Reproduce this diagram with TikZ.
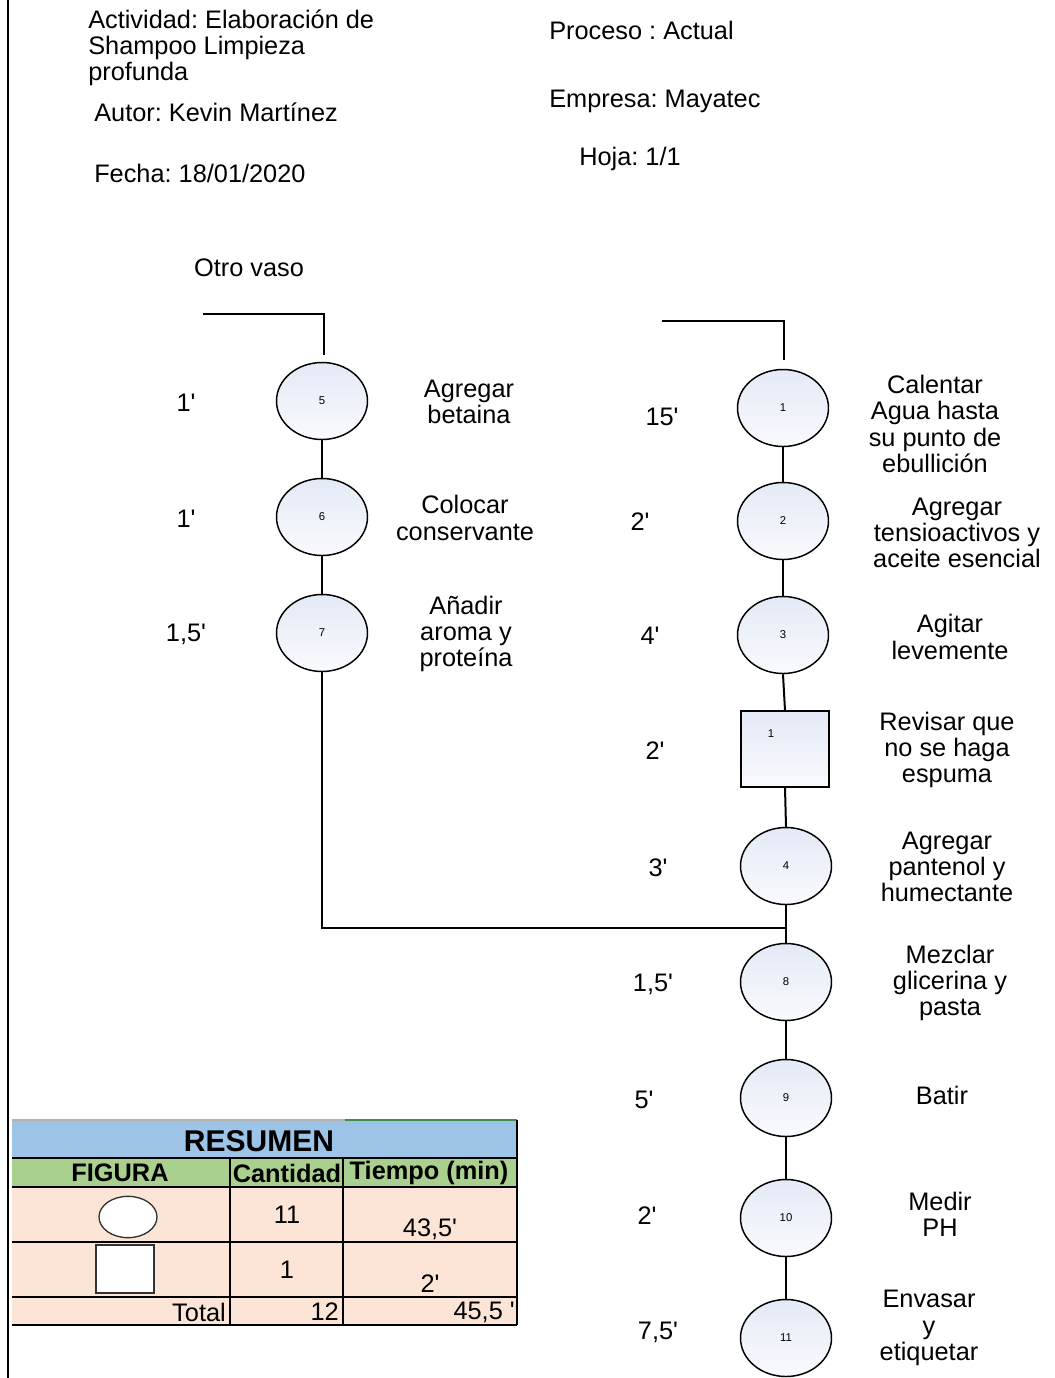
\documentclass[tikz,border=0pt]{standalone}
\usepackage{fontspec}
\setmainfont{Liberation Sans}[Ligatures=TeXOff]
\usetikzlibrary{shapes.geometric}
\definecolor{opfill}{RGB}{228,234,246}
\definecolor{opfillb}{RGB}{249,250,253}
\definecolor{hdrblue}{RGB}{157,195,230}
\definecolor{hdrgreen}{RGB}{169,208,142}
\definecolor{rowpeach}{RGB}{252,228,214}
\definecolor{gridgreen}{RGB}{60,140,80}
\frenchspacing
\begin{document}
\begin{tikzpicture}[x=0.75pt,y=-0.75pt,
  txt/.style={font={\fontsize{19}{19.7}\selectfont},inner sep=0pt,align=center},
  txtl/.style={font={\fontsize{19}{19.7}\selectfont},inner sep=0pt,align=left,anchor=west},
  num/.style={font={\fontsize{8.5}{10}\selectfont},inner sep=0pt},
  op/.style={ellipse,draw,line width=1.1pt,minimum width=68.25pt,minimum height=57.75pt,
    inner sep=0pt,top color=opfill,bottom color=opfillb,font={\fontsize{8.5}{10}\selectfont}},
  insp/.style={rectangle,draw,line width=1.1pt,minimum width=66pt,minimum height=57pt,
    inner sep=0pt,top color=opfill,bottom color=opfillb},
  flow/.style={line width=1.5pt},
  tbl/.style={line width=1.1pt},
  tbtxt/.style={font={\fontsize{19}{20}\selectfont},inner sep=0pt},
  tbbold/.style={font={\fontsize{19}{20}\selectfont\bfseries},inner sep=0pt}]
\useasboundingbox (0,0) rectangle (1054,1378);
\fill[white] (0,0) rectangle (1054,1378);
% page margin line
\draw[line width=1.6pt] (8,0) -- (8,1378);

% header
\node[txtl] (act) at (88,48) {Actividad: Elaboración de\\Shampoo Limpieza\\profunda};
\node[txtl] (aut) at (94,112) {Autor: Kevin Martínez};
\node[txtl] (fec) at (94,173) {Fecha: 18/01/2020};
\node[txtl] (pro) at (549,30) {Proceso : Actual};
\node[txtl] (emp) at (549,101) {Empresa: Mayatec};
\node[txtl] (hoj) at (579,159) {Hoja: 1/1};
\node[txt] (otro) at (249,268) {Otro vaso};

% left branch operations
\node[op] (c5) at (322,401) {5};
\node[op] (c6) at (322,517) {6};
\node[op] (c7) at (322,633) {7};
% right branch operations
\node[op] (c1) at (783,408) {1};
\node[op] (c2) at (783,521) {2};
\node[op] (c3) at (783,635) {3};
\node[insp] (s1) at (785,749) {};
\node[num] (s1n) at (771,734) {1};
\node[op] (c4) at (786,866) {4};
\node[op] (c8) at (786,982) {8};
\node[op] (c9) at (786,1098) {9};
\node[op] (c10) at (786,1218) {10};
\node[op] (c11) at (786,1338) {11};

% entry lines
\coordinate (l0) at (203,314);
\coordinate (l1) at (324,314);
\coordinate (l2) at (324,355);
\coordinate (r0) at (662,321);
\coordinate (r1) at (784,321);
\coordinate (r2) at (784,360);
\draw[line width=1.1pt] (l0) -- (l1) -- (l2);
\draw[line width=1.1pt] (r0) -- (r1) -- (r2);

% connectors
\coordinate (j) at (786,928);
\draw[flow] (c5) -- (c6);
\draw[flow] (c6) -- (c7);
\draw[flow] (c7.south) |- (j);
\draw[flow] (c1) -- (c2);
\draw[flow] (c2) -- (c3);
\draw[flow] (c3.south) -- (s1.north);
\draw[flow] (s1.south) -- (c4.north);
\draw[flow] (c4) -- (c8);
\draw[flow] (c8) -- (c9);
\draw[flow] (c9) -- (c10);
\draw[flow] (c10) -- (c11);

% times
\node[txt] (t5) at (186,403) {1'};
\node[txt] (t6) at (186,519) {1'};
\node[txt] (t7) at (186,634) {1,5'};
\node[txt] (t1) at (662,417) {15'};
\node[txt] (t2) at (640,522) {2'};
\node[txt] (t3) at (650,636) {4'};
\node[txt] (ts) at (655,751) {2'};
\node[txt] (t4) at (658,868) {3'};
\node[txt] (t8) at (653,984) {1,5'};
\node[txt] (t9) at (644,1100) {5'};
\node[txt] (t10) at (647,1216) {2'};
\node[txt] (t11) at (658,1332) {7,5'};

% descriptions
\node[txt] (d5) at (469,402) {Agregar\\betaina};
\node[txt] (d6) at (465,518) {Colocar\\conservante};
\node[txt] (d7) at (466,634) {Añadir\\aroma y\\proteína};
\node[txt] (d1) at (935,424) {Calentar\\Agua hasta\\su punto de\\ebullición};
\node[txt] (d2) at (957,533) {Agregar\\tensioactivos y\\aceite esencial};
\node[txt] (d3) at (950,637) {Agitar\\levemente};
\node[txt] (ds) at (947,750) {Revisar que\\no se haga\\espuma};
\node[txt] (d4) at (947,867) {Agregar\\pantenol y\\humectante};
\node[txt] (d8) at (950,983) {Mezclar\\glicerina y\\pasta};
\node[txt] (d9) at (942,1095) {Batir};
\node[txt] (d10) at (940,1214) {Medir\\PH};
\node[txt] (d11) at (929,1328) {Envasar\\y\\etiquetar};

% summary table
\fill[hdrblue] (12,1120) rectangle (517,1158);
\fill[hdrgreen] (12,1158) rectangle (517,1187);
\fill[rowpeach] (12,1187) rectangle (517,1325);
\draw[gray!60,line width=0.8pt] (12,1120) -- (345,1120);
\draw[gridgreen,line width=0.8pt] (345,1120) -- (517,1120);
\draw[tbl] (12,1158) -- (517,1158);
\draw[tbl] (12,1187) -- (517,1187);
\draw[tbl] (12,1242) -- (517,1242);
\draw[tbl] (12,1297) -- (517,1297);
\draw[tbl] (12,1325) -- (517,1325);
\draw[tbl] (230,1158) -- (230,1325);
\draw[tbl] (343,1158) -- (343,1325);
\draw[tbl] (517,1120) -- (517,1325);

\node[font={\fontsize{22.5}{24}\selectfont\bfseries},inner sep=0pt] (res) at (259,1141) {RESUMEN};
\node[tbbold] (hfig) at (120,1173) {FIGURA};
\node[tbbold] (hcan) at (287,1173) {Cantidad};
\node[tbbold] (htie) at (429,1173) {Tiempo (min)};
\node[ellipse,draw=black!80,line width=1pt,fill=white,minimum width=43.5pt,minimum height=31pt,inner sep=0pt] (fo) at (128,1217) {};
\node[rectangle,draw=black!80,line width=1pt,fill=white,minimum width=43.5pt,minimum height=36pt,inner sep=0pt] (fs) at (125,1269) {};
\node[tbtxt] (q1) at (287,1215) {11};
\node[tbtxt] (m1) at (430,1229) {43,5'};
\node[tbtxt] (q2) at (287,1270) {1};
\node[tbtxt] (m2) at (430,1284) {2'};
\node[tbtxt,anchor=east] (tot) at (226,1312) {Total};
\node[tbtxt,anchor=east] (qt) at (339,1312) {12};
\node[tbtxt,anchor=east] (mt) at (515,1312) {45,5 '};
\end{tikzpicture}
\end{document}
